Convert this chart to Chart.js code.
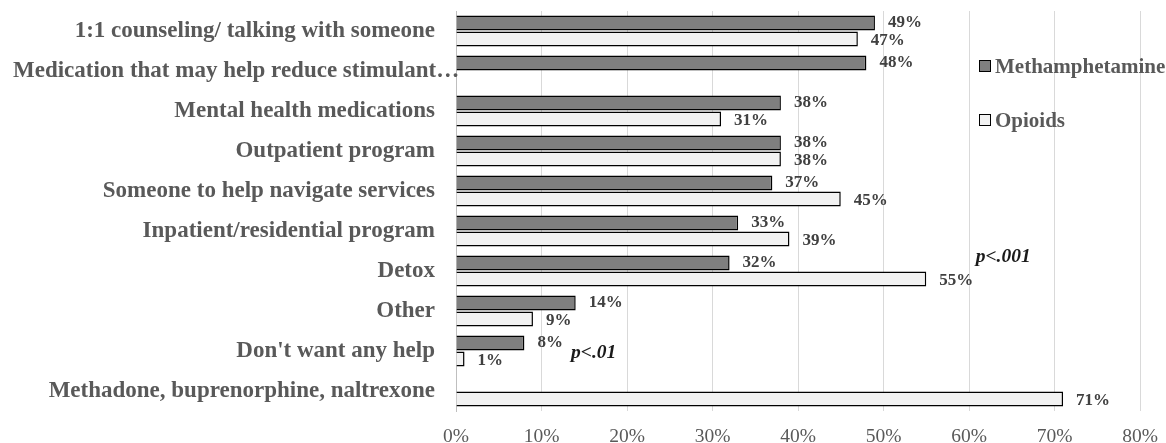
<!DOCTYPE html>
<html>
<head>
<meta charset="utf-8">
<script src="https://cdn.jsdelivr.net/npm/chart.js@4/dist/chart.umd.min.js"></script>
<style>
  html, body { margin: 0; padding: 0; background: #fff; }
  #wrap { width: 1166px; height: 443px; position: relative; }
</style>
</head>
<body>
<div id="wrap"><canvas id="helpChart"></canvas></div>
<script>
// categories and values (percent)
const categorias = [
  "1:1 counseling/ talking with someone",
  "Medication that may help reduce stimulant\u2026",
  "Mental health medications",
  "Outpatient program",
  "Someone to help navigate services",
  "Inpatient/residential program",
  "Detox",
  "Other",
  "Don't want any help",
  "Methadone, buprenorphine, naltrexone"
];
const metanfetamina = [49, 48, 38, 38, 37, 33, 32, 14, 8, null];
const opioides = [47, null, 31, 38, 45, 39, 55, 9, 1, 71];
const serieNombres = ["Methamphetamine", "Opioids"];
const ticksX = [0, 10, 20, 30, 40, 50, 60, 70, 80];

// p-value notes next to categories
const notas = [
  { cat: 6, texto: "p<.001", x: 64, dy: -14 },
  { cat: 8, texto: "p<.01", x: 16.1, dy: 2 }
];

const serif = "'Liberation Serif', 'Times New Roman', serif";

// category labels, data labels, p-values and legend drawn by hand
const etiquetasPlugin = {
  id: 'etiquetas',
  afterDatasetsDraw(chart) {
    const ctx = chart.ctx;
    const xs = chart.scales.x, ys = chart.scales.y;
    ctx.save();

    // category labels: right aligned, long ones start at the left margin
    ctx.font = "bold 23px " + serif;
    ctx.fillStyle = '#595959';
    ctx.textBaseline = 'middle';
    ctx.textAlign = 'left';
    categorias.forEach((c, j) => {
      const w = ctx.measureText(c).width;
      const x = Math.max(13, chart.chartArea.left - 21 - w);
      ctx.fillText(c, x, ys.getPixelForValue(j));
    });

    ctx.font = "bold 17px " + serif;
    ctx.fillStyle = '#404040';
    chart.data.datasets.forEach((ds, i) => {
      const meta = chart.getDatasetMeta(i);
      meta.data.forEach((bar, j) => {
        const v = ds.data[j];
        if (v === null || v === undefined) return;
        const dy = i === 0 ? 0 : 2;
        ctx.fillText(v + '%', bar.x + 13, bar.y + dy);
      });
    });

    // p-values
    ctx.font = "italic bold 19.5px " + serif;
    ctx.fillStyle = '#1a1a1a';
    ctx.textAlign = 'center';
    notas.forEach(n => {
      ctx.fillText(n.texto, xs.getPixelForValue(n.x), ys.getPixelForValue(n.cat) + n.dy);
    });

    // legend
    ctx.font = "bold 21px " + serif;
    ctx.textAlign = 'left';
    const colores = ['#7f7f7f', '#f2f2f2'];
    const ly = [67, 121];
    serieNombres.forEach((nombre, i) => {
      ctx.fillStyle = colores[i];
      ctx.strokeStyle = '#000';
      ctx.lineWidth = 1;
      ctx.fillRect(979.5, ly[i] - 6.5, 11, 11);
      ctx.strokeRect(979.5, ly[i] - 6.5, 11, 11);
      ctx.fillStyle = '#595959';
      ctx.fillText(nombre, 995, ly[i] + 1);
    });
    ctx.restore();
  }
};

new Chart(document.getElementById('helpChart'), {
  type: 'bar',
  data: {
    labels: categorias,
    datasets: [
      {
        label: serieNombres[0],
        data: metanfetamina,
        backgroundColor: '#7f7f7f',
        borderColor: '#000000',
        borderWidth: 1.5,
        categoryPercentage: 0.8,
        barPercentage: 0.95
      },
      {
        label: serieNombres[1],
        data: opioides,
        backgroundColor: '#f2f2f2',
        borderColor: '#000000',
        borderWidth: 1.5,
        categoryPercentage: 0.8,
        barPercentage: 0.95
      }
    ]
  },
  options: {
    indexAxis: 'y',
    responsive: true,
    maintainAspectRatio: false,
    animation: false,
    layout: { padding: { top: 11, right: 26, bottom: 0, left: 0 } },
    plugins: {
      legend: { display: false },
      tooltip: { enabled: false }
    },
    scales: {
      x: {
        min: 0,
        max: 80,
        afterFit: (scale) => {
          scale.height = 32;
          scale.paddingLeft = 0;
          scale.paddingRight = 0;
        },
        afterBuildTicks: (scale) => { scale.ticks = ticksX.map(v => ({ value: v })); },
        ticks: {
          callback: (v) => v + '%',
          color: '#595959',
          font: { family: serif, size: 19.5 },
          padding: 14,
          maxRotation: 0
        },
        grid: { color: '#d9d9d9', drawTicks: false },
        border: { display: false }
      },
      y: {
        afterFit: (scale) => {
          scale.width = 456;
          scale.paddingTop = 0;
          scale.paddingBottom = 0;
        },
        ticks: { display: false },
        grid: { display: false, drawTicks: false },
        border: { display: true, color: '#bfbfbf' }
      }
    }
  },
  plugins: [etiquetasPlugin]
});
</script>
</body>
</html>
